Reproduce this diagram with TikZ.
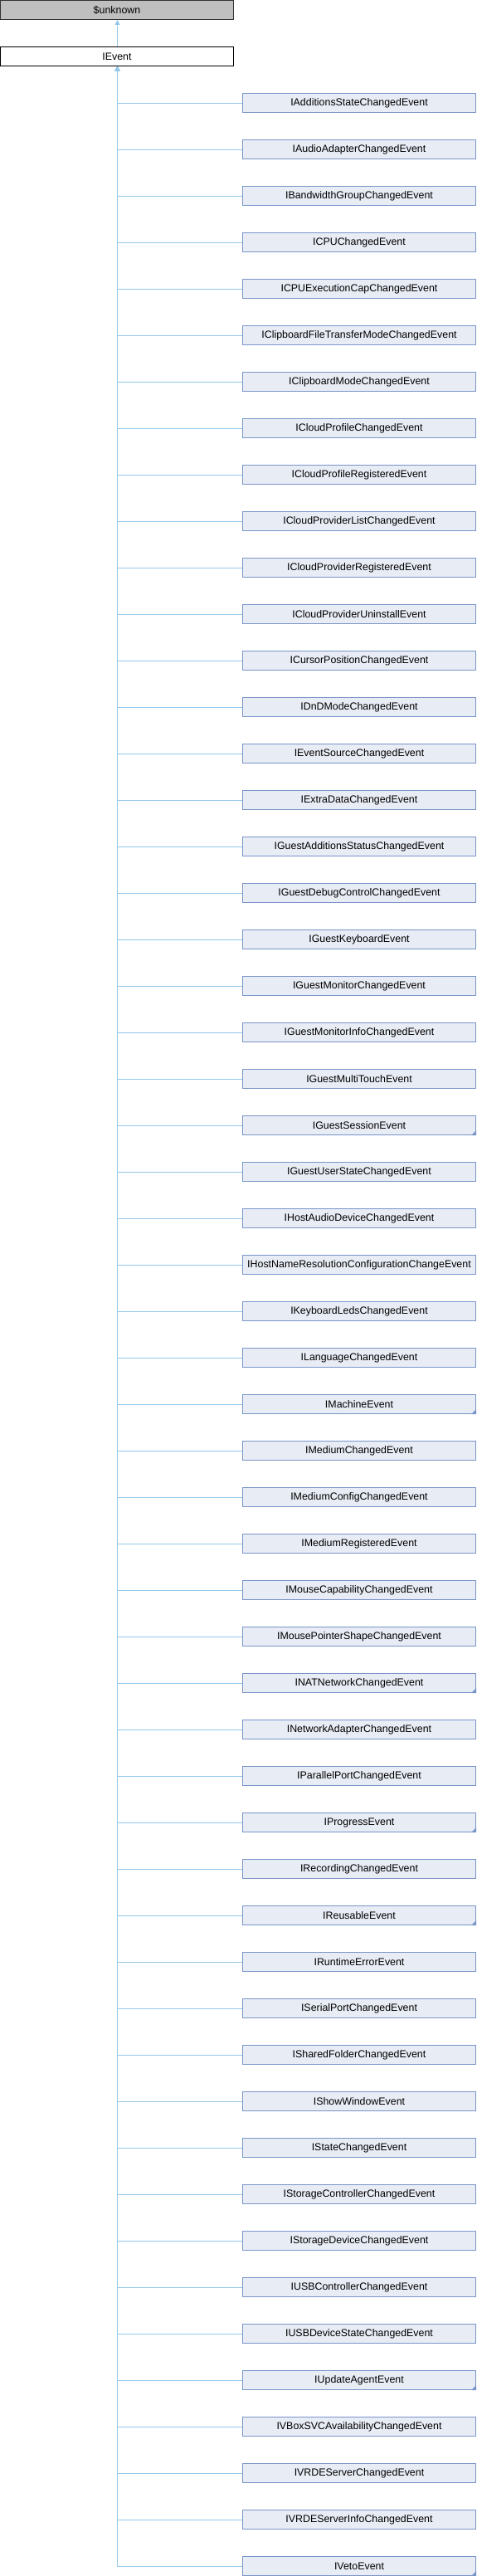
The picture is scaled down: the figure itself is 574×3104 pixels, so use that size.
\documentclass[tikz,border=0pt]{standalone}
\usepackage{fontspec}
\setmainfont{Liberation Sans}
\usetikzlibrary{arrows.meta}
\definecolor{edgec}{HTML}{95C8EA}
\definecolor{childfill}{HTML}{E8ECF5}
\definecolor{childdraw}{HTML}{7A95C9}
\definecolor{grayfill}{HTML}{BFBFBF}
\tikzset{
  x=1pt, y=1pt,
  basebox/.style={rectangle, minimum width=281pt, minimum height=23pt, inner sep=0pt,
    font=\fontsize{12.4}{14}\selectfont, line width=1pt},
  topbox/.style={basebox, fill=grayfill, draw=black!80},
  mainbox/.style={basebox, fill=white, draw=black},
  childbox/.style={basebox, fill=childfill, draw=childdraw},
  conn/.style={draw=edgec, line width=1pt, -{Triangle[width=6pt,length=6pt,fill=edgec]}},
  cornermark/.style={fill=childdraw}
}
\begin{document}
\begin{tikzpicture}
\useasboundingbox (0,0) rectangle (574,-3104);
\node[topbox] (unknown) at (141,-12) {\$unknown};
\node[mainbox] (ievent) at (141,-68) {IEvent};
\coordinate (trunk) at ([xshift=0.5pt]ievent.south);
\foreach \nm [count=\k] in {IAdditionsStateChangedEvent,IAudioAdapterChangedEvent,IBandwidthGroupChangedEvent,ICPUChangedEvent,ICPUExecutionCapChangedEvent,IClipboardFileTransferModeChangedEvent,IClipboardModeChangedEvent,ICloudProfileChangedEvent,ICloudProfileRegisteredEvent,ICloudProviderListChangedEvent,ICloudProviderRegisteredEvent,ICloudProviderUninstallEvent,ICursorPositionChangedEvent,IDnDModeChangedEvent,IEventSourceChangedEvent,IExtraDataChangedEvent,IGuestAdditionsStatusChangedEvent,IGuestDebugControlChangedEvent,IGuestKeyboardEvent,IGuestMonitorChangedEvent,IGuestMonitorInfoChangedEvent,IGuestMultiTouchEvent,IGuestSessionEvent,IGuestUserStateChangedEvent,IHostAudioDeviceChangedEvent,IHostNameResolutionConfigurationChangeEvent,IKeyboardLedsChangedEvent,ILanguageChangedEvent,IMachineEvent,IMediumChangedEvent,IMediumConfigChangedEvent,IMediumRegisteredEvent,IMouseCapabilityChangedEvent,IMousePointerShapeChangedEvent,INATNetworkChangedEvent,INetworkAdapterChangedEvent,IParallelPortChangedEvent,IProgressEvent,IRecordingChangedEvent,IReusableEvent,IRuntimeErrorEvent,ISerialPortChangedEvent,ISharedFolderChangedEvent,IShowWindowEvent,IStateChangedEvent,IStorageControllerChangedEvent,IStorageDeviceChangedEvent,IUSBControllerChangedEvent,IUSBDeviceStateChangedEvent,IUpdateAgentEvent,IVBoxSVCAvailabilityChangedEvent,IVRDEServerChangedEvent,IVRDEServerInfoChangedEvent,IVetoEvent} {
  \node[childbox] (c\k) at (433,{-124-56*(\k-1)}) {\nm};
  \draw[conn] ([yshift=-0.5pt]c\k.west) -| (trunk);
}
\foreach \k in {23,29,35,38,40,50,54} {
  \fill[cornermark] ([xshift=-6pt]c\k.south east) -- (c\k.south east) -- ([yshift=6pt]c\k.south east) -- cycle;
}
\draw[conn] ([xshift=0.5pt]ievent.north) -- ([xshift=0.5pt]unknown.south);
\end{tikzpicture}
\end{document}
